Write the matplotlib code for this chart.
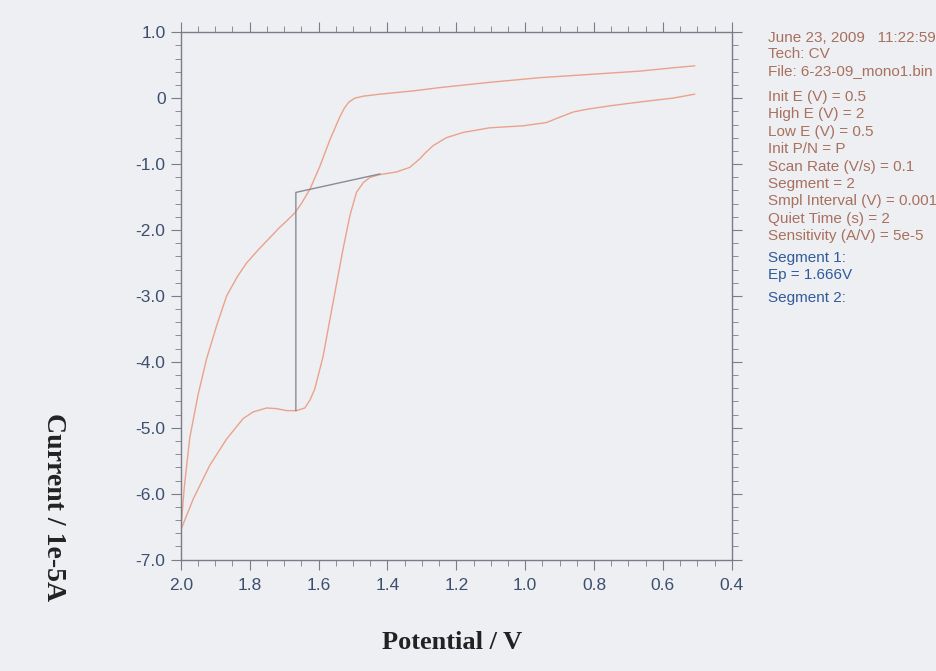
import numpy as np
import matplotlib.pyplot as plt
from matplotlib.ticker import MultipleLocator
from matplotlib import font_manager

# upper trace (0.5 V -> 2.0 V)
upper_x = [0.508, 0.571, 0.667, 0.812, 0.958, 1.103, 1.248, 1.325, 1.422, 1.470,
           1.495, 1.512, 1.525, 1.538, 1.552, 1.567, 1.596, 1.625, 1.650, 1.669,
           1.690, 1.713, 1.742, 1.775, 1.809, 1.835, 1.867, 1.896, 1.925, 1.950,
           1.974, 1.990, 2.0]
upper_y = [0.49, 0.46, 0.41, 0.36, 0.31, 0.24, 0.16, 0.11, 0.06, 0.03,
           0.0, -0.06, -0.15, -0.28, -0.45, -0.63, -1.03, -1.38, -1.60, -1.74,
           -1.85, -1.96, -2.12, -2.30, -2.50, -2.70, -3.0, -3.45, -3.95, -4.5,
           -5.15, -5.9, -6.55]

# lower trace (2.0 V -> 0.5 V)
lower_x = [0.508, 0.571, 0.638, 0.745, 0.822, 0.860, 0.900, 0.938, 1.006, 1.103,
           1.180, 1.229, 1.267, 1.290, 1.306, 1.335, 1.374, 1.422, 1.450, 1.470,
           1.490, 1.509, 1.529, 1.558, 1.587, 1.611, 1.625, 1.640, 1.664, 1.693,
           1.722, 1.751, 1.790, 1.819, 1.867, 1.916, 1.964, 2.0]
lower_y = [0.06, 0.0, -0.04, -0.11, -0.17, -0.21, -0.29, -0.37, -0.42, -0.45,
           -0.52, -0.60, -0.72, -0.83, -0.92, -1.05, -1.12, -1.16, -1.20, -1.28,
           -1.43, -1.78, -2.29, -3.1, -3.92, -4.41, -4.58, -4.70, -4.74, -4.74,
           -4.71, -4.70, -4.76, -4.86, -5.17, -5.57, -6.08, -6.55]

# peak marker (baseline + Ep)
peak_x = [1.422, 1.666, 1.666]
peak_y = [-1.15, -1.43, -4.74]

xticks = [2.0, 1.8, 1.6, 1.4, 1.2, 1.0, 0.8, 0.6, 0.4]
xlabels = ["2.0", "1.8", "1.6", "1.4", "1.2", "1.0", "0.8", "0.6", "0.4"]
yticks = [1.0, 0, -1.0, -2.0, -3.0, -4.0, -5.0, -6.0, -7.0]
ylabels = ["1.0", "0", "-1.0", "-2.0", "-3.0", "-4.0", "-5.0", "-6.0", "-7.0"]

info_lines = ["June 23, 2009   11:22:59", "Tech: CV", "File: 6-23-09_mono1.bin"]
param_lines = ["Init E (V) = 0.5", "High E (V) = 2", "Low E (V) = 0.5",
               "Init P/N = P", "Scan Rate (V/s) = 0.1", "Segment = 2",
               "Smpl Interval (V) = 0.001", "Quiet Time (s) = 2",
               "Sensitivity (A/V) = 5e-5"]
seg_lines = ["Segment 1:", "Ep = 1.666V"]

bg = "#eeeff3"
curve_col = "#eaa28a"
tick_col = "#3d4f6e"
spine_col = "#7a7c88"
txt_col = "#a8705e"
seg_col = "#2f5b9a"

names = set(f.name for f in font_manager.fontManager.ttflist)
tick_font = "Liberation Sans Narrow" if "Liberation Sans Narrow" in names else "Liberation Sans"
tick_size = 14.5 if tick_font == "Liberation Sans Narrow" else 12.5

fig = plt.figure(figsize=(9.37, 6.71), dpi=100, facecolor=bg)
ax = fig.add_axes([0.193, 0.166, 0.588, 0.786], facecolor=bg)

ax.plot(upper_x, upper_y, color=curve_col, lw=1.0)
ax.plot(lower_x, lower_y, color=curve_col, lw=1.0)
ax.plot(peak_x, peak_y, color="#8a8a96", lw=1.0)

ax.set_xlim(2.0, 0.4)
ax.set_ylim(-7.0, 1.0)
ax.set_xticks(xticks)
ax.set_xticklabels(xlabels)
ax.set_yticks(yticks)
ax.set_yticklabels(ylabels)
ax.xaxis.set_minor_locator(MultipleLocator(0.05))
ax.yaxis.set_minor_locator(MultipleLocator(0.2))

for s in ax.spines.values():
    s.set_color(spine_col)
    s.set_linewidth(1.0)

ax.tick_params(which="major", direction="out", length=7, top=True, right=True,
               color=spine_col, labelcolor=tick_col, labelsize=tick_size)
ax.tick_params(which="minor", direction="out", length=4, top=True, right=True,
               color=spine_col)
ax.tick_params(axis="x", which="major", pad=6)
ax.tick_params(axis="y", which="major", pad=4)
for t in ax.get_xticklabels() + ax.get_yticklabels():
    t.set_family(tick_font)

fig.text(0.482, 0.042, "Potential / V", ha="center", va="center",
         family="Liberation Serif", weight="bold", fontsize=19, color="#222222")
fig.text(0.057, 0.245, "Current / 1e-5A", ha="center", va="center", rotation=-90,
         family="Liberation Serif", weight="bold", fontsize=20, color="#222222")

tx = 768 / 937
fs = 11
y = 1 - 38 / 671
for line in info_lines:
    fig.text(tx, y, line, ha="left", va="center", fontsize=fs,
             color=txt_col, family="Liberation Sans")
    y -= 16.5 / 671
y = 1 - 97 / 671
for line in param_lines:
    fig.text(tx, y, line, ha="left", va="center", fontsize=fs,
             color=txt_col, family="Liberation Sans")
    y -= 17.4 / 671
y = 1 - 258 / 671
for line in seg_lines:
    fig.text(tx, y, line, ha="left", va="center", fontsize=fs,
             color=seg_col, family="Liberation Sans")
    y -= 17 / 671
fig.text(tx, 1 - 298 / 671, "Segment 2:", ha="left", va="center", fontsize=fs,
         color=seg_col, family="Liberation Sans")

fig.savefig("out.png", dpi=100, facecolor=bg)
